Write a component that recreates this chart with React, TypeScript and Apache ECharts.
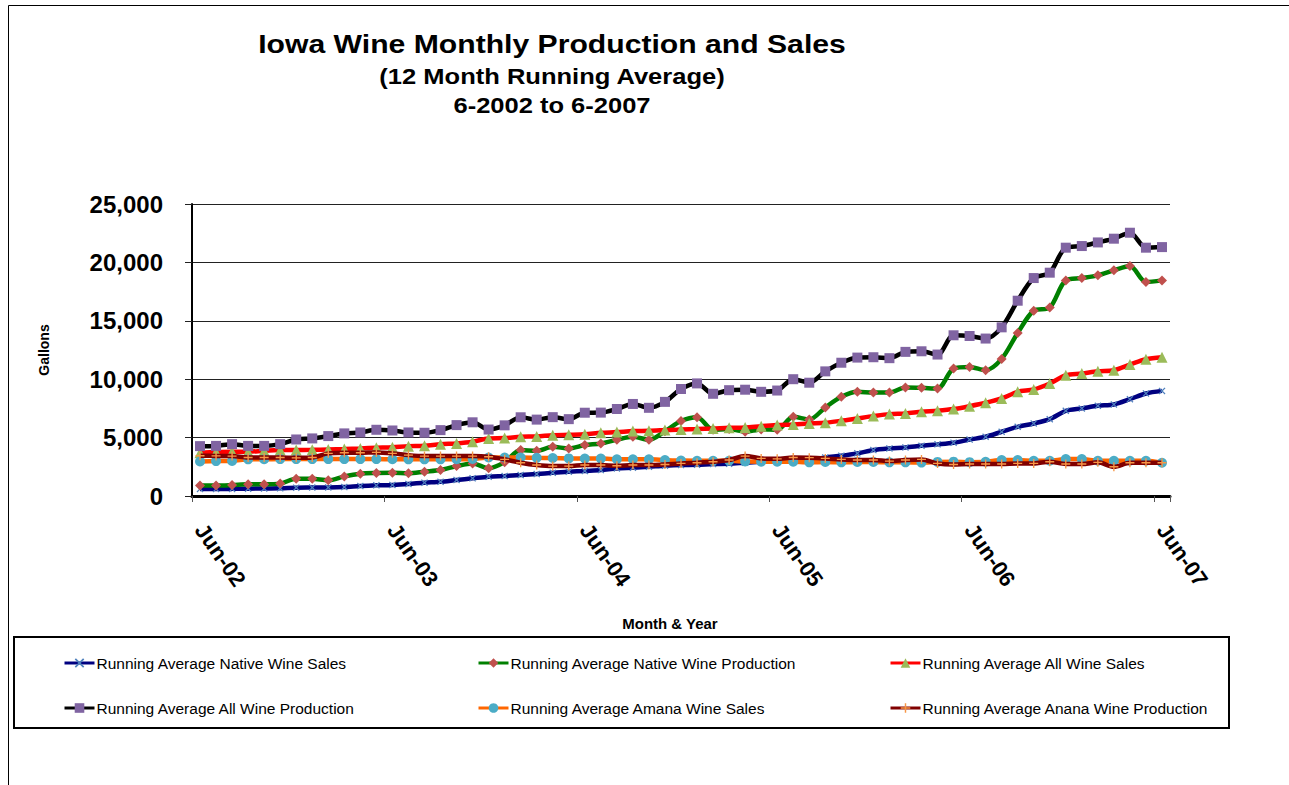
import React, { useEffect, useRef } from "react";
import * as echarts from "echarts";

const FONT = '"Liberation Sans", Arial, sans-serif';

const monthNames = ["Jun", "Jul", "Aug", "Sep", "Oct", "Nov", "Dec", "Jan", "Feb", "Mar", "Apr", "May"];
const startYear = 2;
const monthCount = 61;
const categories: string[] = [];
for (let i = 0; i < monthCount; i++) {
  const m = i % 12;
  const yr = startYear + Math.floor(i / 12) + (m >= 7 ? 1 : 0);
  categories.push(monthNames[m] + "-" + String(yr).padStart(2, "0"));
}

const seriesNames = [
  "Running Average Native Wine Sales",
  "Running Average Native Wine Production",
  "Running Average All Wine Sales",
  "Running Average All Wine Production",
  "Running Average Amana Wine Sales",
  "Running Average Anana Wine Production",
];

const nativeWineSales = [
  600, 600, 610, 630, 640, 660, 710, 720, 730, 770, 850, 910,
  950, 1030, 1140, 1220, 1370, 1510, 1650, 1710, 1790, 1880, 1990, 2080,
  2150, 2220, 2360, 2420, 2500, 2590, 2650, 2670, 2740, 2760, 2850, 2930,
  3000, 3010, 3080, 3300, 3450, 3650, 3930, 4070, 4160, 4300, 4420, 4560,
  4830, 5070, 5500, 5920, 6210, 6580, 7290, 7500, 7720, 7840, 8290, 8780,
  9000,
];

const nativeWineProduction = [
  900, 900, 940, 1000, 1000, 1060, 1480, 1470, 1340, 1680, 1910, 1970,
  1990, 1940, 2080, 2220, 2560, 2790, 2380, 2900, 3930, 3870, 4210, 4070,
  4360, 4500, 4820, 5070, 4820, 5540, 6420, 6750, 5670, 5730, 5500, 5700,
  5670, 6780, 6550, 7580, 8490, 8920, 8860, 8860, 9290, 9260, 9200, 10910,
  11050, 10770, 11740, 13960, 15870, 16130, 18460, 18660, 18890, 19320, 19690, 18320,
  18460,
];

const allWineSales = [
  3700, 3760, 3790, 3790, 3880, 3930, 3930, 3950, 3990, 4020, 4070, 4130,
  4180, 4270, 4300, 4440, 4500, 4640, 4930, 4960, 5070, 5100, 5210, 5240,
  5280, 5410, 5470, 5560, 5580, 5640, 5700, 5730, 5780, 5840, 5870, 5980,
  6070, 6130, 6210, 6270, 6440, 6640, 6840, 7010, 7070, 7210, 7300, 7440,
  7690, 7980, 8350, 8920, 9120, 9630, 10340, 10480, 10680, 10770, 11250, 11710,
  11880,
];

const allWineProduction = [
  4270, 4290, 4440, 4290, 4290, 4440, 4840, 4930, 5130, 5360, 5440, 5670,
  5610, 5440, 5415, 5640, 6070, 6310, 5690, 6050, 6740, 6540, 6750, 6580,
  7130, 7140, 7450, 7880, 7550, 8060, 9160, 9640, 8750, 9060, 9100, 8920,
  9030, 10000, 9700, 10670, 11410, 11850, 11880, 11800, 12340, 12390, 12110, 13760,
  13700, 13480, 14440, 16720, 18660, 19120, 21260, 21400, 21710, 22030, 22540, 21260,
  21310,
];

const amanaWineSales = [
  2950, 2990, 3000, 3140, 3150, 3160, 3160, 3160, 3160, 3160, 3160, 3160,
  3150, 3140, 3140, 3140, 3150, 3170, 3300, 3300, 3300, 3270, 3250, 3220,
  3200, 3200, 3150, 3140, 3140, 3080, 3030, 3020, 3020, 3020, 2950, 2940,
  2940, 2930, 2880, 2920, 2880, 2920, 2920, 2880, 2880, 2860, 2920, 2940,
  2900, 2930, 3080, 3080, 3020, 3020, 3160, 3160, 3020, 3020, 3020, 3020,
  2850,
];

const ananaWineProduction = [
  3450, 3430, 3420, 3300, 3300, 3300, 3270, 3300, 3650, 3700, 3700, 3730,
  3650, 3500, 3420, 3420, 3420, 3420, 3360, 3140, 2850, 2650, 2560, 2560,
  2650, 2650, 2590, 2650, 2650, 2700, 2790, 2850, 2930, 3080, 3420, 3220,
  3180, 3300, 3280, 3220, 3130, 3080, 3080, 2990, 3080, 3130, 2790, 2700,
  2740, 2740, 2740, 2790, 2790, 2930, 2740, 2740, 2880, 2500, 2850, 2850,
  2850,
];

const seriesValues = [
  nativeWineSales,
  nativeWineProduction,
  allWineSales,
  allWineProduction,
  amanaWineSales,
  ananaWineProduction,
];

const yTicks = { min: 0, max: 25000, interval: 5000 };

const X_SYMBOL = "path://M1,0L4,3L7,0L8,1L5,4L8,7L7,8L4,5L1,8L0,7L3,4L0,1Z";
const PLUS_SYMBOL = "path://M3.4,0H4.6V3.4H8V4.6H4.6V8H3.4V4.6H0V3.4H3.4Z";

const seriesStyles = [
  { line: "#000080", marker: "#4F81BD", symbol: X_SYMBOL, size: 7 },
  { line: "#008000", marker: "#C0504D", symbol: "diamond", size: 10 },
  { line: "#FF0000", marker: "#9BBB59", symbol: "triangle", size: 11 },
  { line: "#000000", marker: "#8064A2", symbol: "rect", size: 10 },
  { line: "#FF6600", marker: "#4BACC6", symbol: "circle", size: 10 },
  { line: "#800000", marker: "#F79646", symbol: PLUS_SYMBOL, size: 9 },
];

const legendPos = [
  { left: 58, top: 650 },
  { left: 472, top: 650 },
  { left: 884, top: 650 },
  { left: 58, top: 695 },
  { left: 472, top: 695 },
  { left: 884, top: 695 },
];

function textEl(text: string, x: number, y: number, font: string, scaleX = 1, rotation = 0) {
  return {
    type: "text",
    x,
    y,
    scaleX,
    rotation,
    silent: true,
    style: {
      text,
      font,
      fill: "#000",
      textAlign: "center",
      align: "center",
      textVerticalAlign: "middle",
      verticalAlign: "middle",
    },
  };
}

export default function App() {
  const ref = useRef<HTMLDivElement>(null);

  useEffect(() => {
    if (!ref.current) return;
    const chart = echarts.init(ref.current, undefined, { renderer: "svg" });

    const option: any = {
      animation: false,
      backgroundColor: "#fff",
      grid: { left: 192, right: 119, top: 204, bottom: 289, containLabel: false },
      graphic: [
        {
          type: "rect",
          silent: true,
          shape: { x: 8.5, y: 5.5, width: 1300, height: 800 },
          style: { fill: "none", stroke: "#000", lineWidth: 1 },
        },
        {
          type: "rect",
          silent: true,
          shape: { x: 14, y: 637, width: 1215, height: 91 },
          style: { fill: "none", stroke: "#000", lineWidth: 2 },
        },
        textEl("Iowa Wine Monthly Production and Sales", 552, 44, `bold 26px ${FONT}`, 1.16),
        textEl("(12 Month Running Average)", 552, 76, `bold 22px ${FONT}`, 1.16),
        textEl("6-2002 to 6-2007", 552, 105, `bold 22px ${FONT}`, 1.16),
        textEl("Gallons", 44, 350, `bold 14px ${FONT}`, 1, Math.PI / 2),
        textEl("Month & Year", 670, 624, `bold 14px ${FONT}`, 1.07),
      ],
      legend: seriesNames.map((name, i) => ({
        data: [name],
        left: legendPos[i].left,
        top: legendPos[i].top,
        itemWidth: 30,
        itemHeight: 12,
        itemGap: 2,
        selectedMode: false,
        lineStyle: { width: 3 },
        textStyle: { fontSize: 15.5, color: "#000", fontFamily: FONT, padding: [0, 0, 0, -3] },
      })),
      xAxis: {
        type: "category",
        data: categories,
        boundaryGap: true,
        axisLine: { show: true, lineStyle: { color: "#000", width: 3 } },
        axisTick: { show: true, interval: 11, length: 6, lineStyle: { color: "#555", width: 1 } },
        axisLabel: {
          interval: 11,
          rotate: -55,
          margin: 30,
          fontSize: 22,
          fontWeight: "bold",
          color: "#000",
          fontFamily: FONT,
        },
        splitLine: { show: false },
      },
      yAxis: {
        type: "value",
        min: yTicks.min,
        max: yTicks.max,
        interval: yTicks.interval,
        axisLine: { show: true, lineStyle: { color: "#000", width: 2 } },
        axisTick: { show: true, length: 7, lineStyle: { color: "#222", width: 1 } },
        axisLabel: {
          formatter: (v: number) => v.toLocaleString("en-US"),
          fontSize: 24,
          fontWeight: "bold",
          color: "#000",
          fontFamily: FONT,
          margin: 29,
        },
        splitLine: { show: true, lineStyle: { color: "#222", width: 1 } },
      },
      series: seriesNames.map((name, i) => ({
        name,
        type: "line",
        data: seriesValues[i],
        smooth: 0.3,
        symbol: seriesStyles[i].symbol,
        symbolSize: seriesStyles[i].size,
        showAllSymbol: true,
        lineStyle: { color: seriesStyles[i].line, width: 4.5 },
        itemStyle: { color: seriesStyles[i].marker, borderWidth: 0 },
        emphasis: { disabled: true },
        z: 2 + i,
      })),
    };

    chart.setOption(option);
    return () => chart.dispose();
  }, []);

  return (
    <div
      ref={ref}
      style={{ position: "absolute", left: 0, top: 0, width: 1289, height: 785, background: "#fff" }}
    />
  );
}
